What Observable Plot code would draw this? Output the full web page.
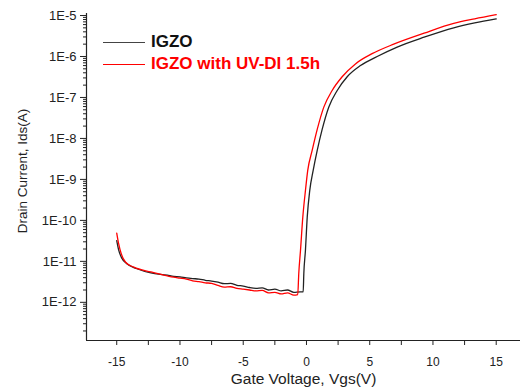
<!DOCTYPE html>
<html><head><meta charset="utf-8">
<script src="https://cdn.jsdelivr.net/npm/d3@7"></script>
<script src="https://cdn.jsdelivr.net/npm/@observablehq/plot@0.6"></script>
<style>
body{margin:0;background:#fff;font-family:"Liberation Sans",Arial,sans-serif;}
#wrap{position:relative;width:522px;height:389px;}
.leg{position:absolute;left:103px;display:flex;align-items:center;font-weight:bold;font-size:17px;line-height:20px;height:20px;}
.leg .l{display:inline-block;width:42px;height:0;border-top:1.5px solid;margin-right:6px;}
</style></head><body><div id="wrap"></div><script>
// ---- data ----
const seriesNames = ["IGZO", "IGZO with UV-DI 1.5h"];
const seriesColors = ["#222222", "#ff0000"];

const igzoVgs = [-15, -14.85, -14.6, -14.2, -13.4, -12.3, -11, -10.5, -10, -9.5, -9, -8.5, -8, -7.5, -7, -6.5, -6, -5.5, -5, -4.5, -4, -3.5, -3, -2.5, -2, -1.5, -1, -0.5, -0.26, -0.21, -0.08, 0.06, 0.26, 0.53, 0.85, 1.24, 1.76, 2.43, 3.22, 4.27, 5.59, 7.17, 9.3, 11.64, 13.3, 15.0];
const igzoIds = [3.2e-11, 1.9e-11, 1.2e-11, 8.7e-12, 6.6e-12, 5.2e-12, 4.6e-12, 4.3e-12, 4.2e-12, 3.95e-12, 3.8e-12, 3.7e-12, 3.45e-12, 3.3e-12, 3.1e-12, 2.85e-12, 2.9e-12, 2.6e-12, 2.5e-12, 2.3e-12, 2.2e-12, 2.25e-12, 2.0e-12, 2.1e-12, 1.9e-12, 2.0e-12, 1.75e-12, 1.8e-12, 1.8e-12, 5.0e-12, 1.9e-11, 1.2e-10, 5.4e-10, 1.66e-9, 5.1e-9, 1.66e-8, 5.8e-8, 1.48e-7, 3.2e-7, 6.0e-7, 1.0e-6, 1.7e-6, 2.95e-6, 5.0e-6, 6.6e-6, 8.3e-6];

const uvVgs = [-15, -14.85, -14.65, -14.3, -13.65, -12.3, -11, -10.5, -10, -9.5, -9, -8.5, -8, -7.5, -7, -6.5, -6, -5.5, -5, -4.5, -4, -3.5, -3, -2.5, -2, -1.5, -1, -0.69, -0.61, -0.47, -0.29, -0.08, 0.10, 0.45, 0.85, 1.37, 2.03, 2.82, 3.87, 5.19, 6.90, 9.3, 11.64, 13.3, 15.0];
const uvIds = [4.9e-11, 2.7e-11, 1.55e-11, 9.5e-12, 7.2e-12, 5.5e-12, 4.4e-12, 4.1e-12, 3.9e-12, 3.7e-12, 3.35e-12, 3.2e-12, 3.0e-12, 2.9e-12, 2.6e-12, 2.35e-12, 2.4e-12, 2.2e-12, 2.1e-12, 2.0e-12, 1.9e-12, 1.95e-12, 1.7e-12, 1.75e-12, 1.6e-12, 1.7e-12, 1.5e-12, 1.55e-12, 5.0e-12, 1.9e-11, 1.2e-10, 5.4e-10, 1.66e-9, 5.1e-9, 1.66e-8, 5.8e-8, 1.48e-7, 3.2e-7, 6.6e-7, 1.17e-6, 2.0e-6, 3.7e-6, 6.4e-6, 8.3e-6, 1.05e-5];

const xTicks = [-15, -10, -5, 0, 5, 10, 15];
const xMinorTicks = [-12.5, -7.5, -2.5, 2.5, 7.5, 12.5];
const yTicks = [1e-12, 1e-11, 1e-10, 1e-9, 1e-8, 1e-7, 1e-6, 1e-5];
const xDomain = [-17.39, 16.92];
const yDomain = [1.17e-13, 1.12e-5];
const xLabel = "Gate Voltage, Vgs(V)";
const yLabel = "Drain Current, Ids(A)";

// ---- build ----
const igzo = igzoVgs.map((v, i) => ({vgs: v, ids: igzoIds[i]}));
const uv = uvVgs.map((v, i) => ({vgs: v, ids: uvIds[i]}));
const yMinor = [];
for (let e = -13; e <= -5; e++) for (let m = 2; m <= 9; m++) {
  const v = m * Math.pow(10, e);
  if (v >= yDomain[0] && v <= yDomain[1]) yMinor.push(v);
}
const fmtX = d => (d < 0 ? "-" + Math.abs(d) : String(d));
const fmtY = d => "1E" + Math.round(Math.log10(d));

const chart = Plot.plot({
  width: 522, height: 389,
  marginLeft: 86, marginRight: 2, marginTop: 13, marginBottom: 49,
  x: {domain: xDomain},
  y: {type: "log", domain: yDomain},
  style: {fontFamily: "'Liberation Sans', Arial, sans-serif", fontSize: "12px", color: "#222", background: "white"},
  marks: [
    Plot.axisX({ticks: xTicks, tickSize: 5, tickPadding: 12, tickFormat: fmtX, label: null, fontSize: 12}),
    Plot.axisX({ticks: xMinorTicks, tickSize: 5, tickFormat: () => "", label: null}),
    Plot.axisY({ticks: yTicks, tickSize: 6, tickPadding: 4, tickFormat: fmtY, label: null, fontSize: 13}),
    Plot.axisY({ticks: yMinor, tickSize: 3, tickFormat: () => "", label: null}),
    Plot.ruleX([xDomain[0]], {stroke: "#222", strokeWidth: 1.2}),
    Plot.ruleY([yDomain[0]], {stroke: "#222", strokeWidth: 1.2}),
    Plot.line(igzo, {x: "vgs", y: "ids", stroke: seriesColors[0], strokeWidth: 1.3, curve: "monotone-x"}),
    Plot.line(uv, {x: "vgs", y: "ids", stroke: seriesColors[1], strokeWidth: 1.3, curve: "monotone-x"}),
    Plot.text([xLabel], {frameAnchor: "bottom", textAnchor: "middle", lineAnchor: "bottom", dy: 43, fontSize: 15.5, fill: "#222"}),
    Plot.text([yLabel], {frameAnchor: "left", textAnchor: "middle", lineAnchor: "middle", rotate: -90, dx: -64, dy: -6, fontSize: 13.5, fill: "#222"})
  ]
});
const wrap = document.getElementById("wrap");
wrap.appendChild(chart);
[32, 54].forEach((top, i) => {
  const d = document.createElement("div");
  d.className = "leg";
  d.style.top = top + "px";
  d.style.color = i === 0 ? "#111" : seriesColors[1];
  const l = document.createElement("span");
  l.className = "l";
  l.style.borderColor = i === 0 ? "#444" : seriesColors[i];
  d.appendChild(l);
  d.appendChild(document.createTextNode(seriesNames[i]));
  wrap.appendChild(d);
});
</script></body></html>
